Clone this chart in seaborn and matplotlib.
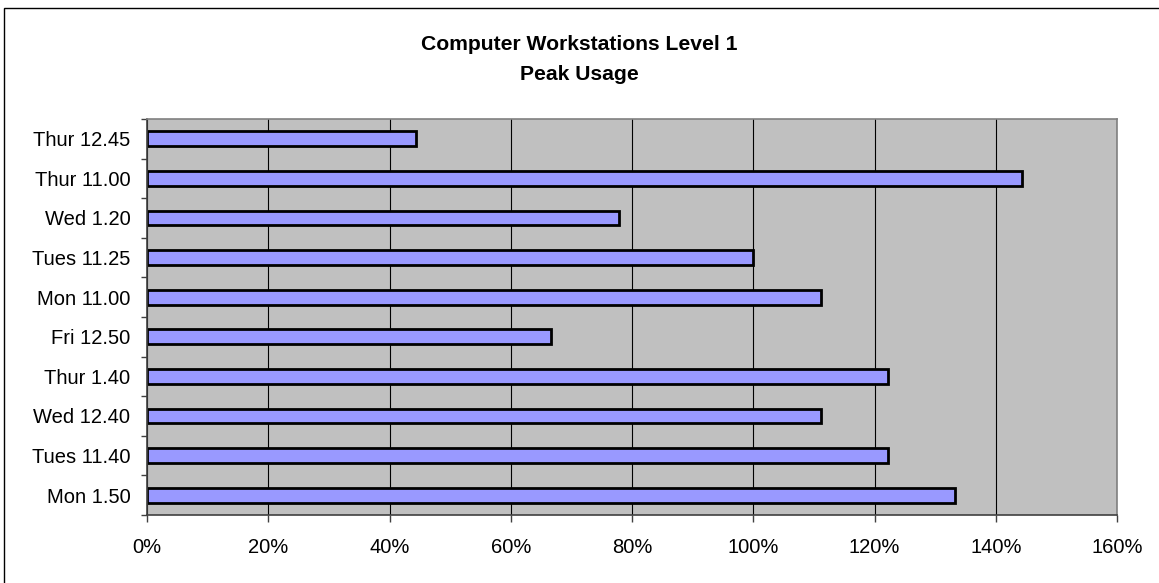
import matplotlib
matplotlib.use('Agg')
import matplotlib.pyplot as plt
from matplotlib.patches import Rectangle
from matplotlib.ticker import FixedLocator, PercentFormatter
import seaborn as sns
import pandas as pd

# session labels, top to bottom as shown
sesiones = ['Thur 12.45', 'Thur 11.00', 'Wed 1.20', 'Tues 11.25', 'Mon 11.00',
            'Fri 12.50', 'Thur 1.40', 'Wed 12.40', 'Tues 11.40', 'Mon 1.50']
# peak usage in percent
uso = [44.4, 144.4, 77.8, 100.0, 111.1, 66.7, 122.2, 111.1, 122.2, 133.3]
ticks_x = [0, 20, 40, 60, 80, 100, 120, 140, 160]

titulo_1 = 'Computer Workstations Level 1'
titulo_2 = 'Peak Usage'

BAR_COL = '#9999FF'
PLOT_BG = '#C0C0C0'

sns.set_style('white')
plt.rcParams['font.family'] = ['Liberation Sans', 'DejaVu Sans']
plt.rcParams['text.color'] = 'black'

W, H = 1159, 583
fig = plt.figure(figsize=(W / 100, H / 100), dpi=100, facecolor='white')
ax = fig.add_axes([147 / W, 1 - 515 / H, (1117 - 147) / W, (515 - 119) / H])
ax.set_facecolor(PLOT_BG)

df = pd.DataFrame({'sesion': sesiones, 'uso': uso})
sns.barplot(data=df, x='uso', y='sesion', orient='h', color=BAR_COL,
            saturation=1, edgecolor='black', linewidth=2.0, width=0.37, ax=ax)

ax.set_xlim(0, 160)
ax.set_ylim(len(sesiones) - 0.5, -0.5)
ax.xaxis.set_major_locator(FixedLocator(ticks_x))
ax.xaxis.set_major_formatter(PercentFormatter(decimals=0))
ax.set_xlabel('')
ax.set_ylabel('')

# vertical gridlines behind bars
ax.set_axisbelow(True)
ax.grid(axis='x', color='black', linewidth=0.8)
ax.grid(axis='y', visible=False)

# y tick marks sit between categories
ax.yaxis.set_minor_locator(FixedLocator([i - 0.5 for i in range(len(sesiones) + 1)]))
ax.tick_params(axis='y', which='major', length=0, pad=12, labelsize=14.5, labelcolor='black')
ax.tick_params(axis='y', which='minor', left=True, length=4.5, width=1.0, color='#404040')
ax.tick_params(axis='x', which='major', bottom=True, length=4.8, width=1.0,
               color='#404040', pad=12, labelsize=14.5, labelcolor='black')

for s in ['left', 'bottom']:
    ax.spines[s].set_color('#404040')
    ax.spines[s].set_linewidth(1.2)
for s in ['top', 'right']:
    ax.spines[s].set_color('#808080')
    ax.spines[s].set_linewidth(1.2)

# title lines
fig.text(579.5 / W, 1 - 50 / H, titulo_1, ha='center', va='baseline',
         fontsize=15.2, fontweight='bold', color='black')
fig.text(579.5 / W, 1 - 80.5 / H, titulo_2, ha='center', va='baseline',
         fontsize=15.2, fontweight='bold', color='black')

# outer chart border (cut at right and bottom edges)
fig.patches.append(Rectangle((4 / W, -0.1), 2, 1.1 - 8 / H, transform=fig.transFigure,
                             fill=False, edgecolor='black', linewidth=1.0))

fig.savefig('out.png', dpi=100, facecolor='white')
